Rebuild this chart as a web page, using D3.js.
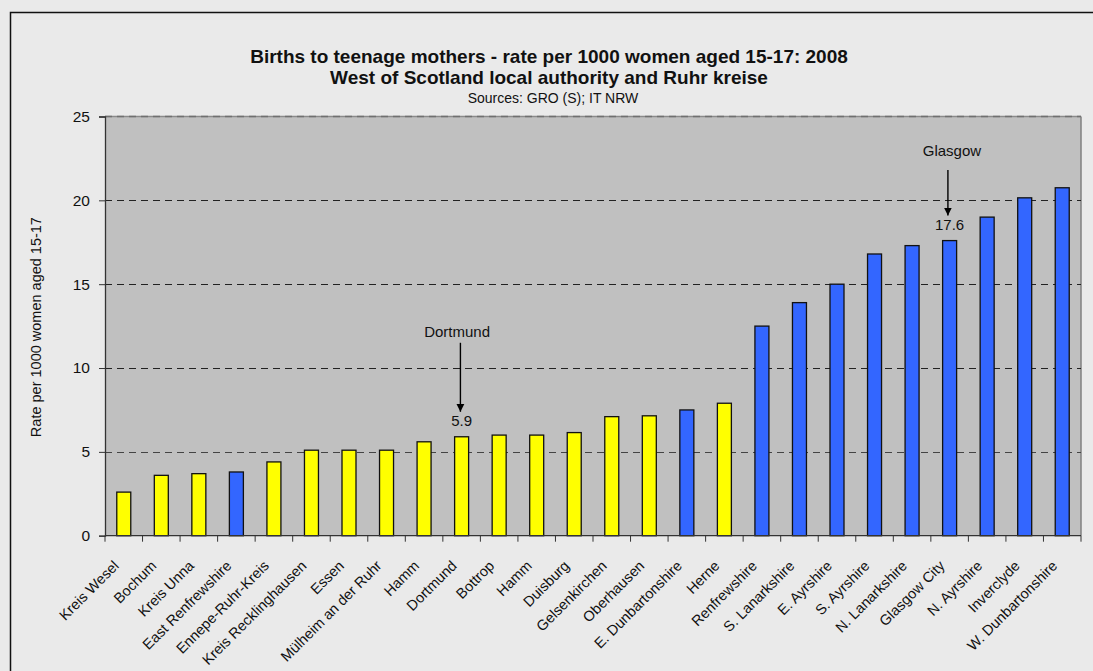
<!DOCTYPE html>
<html><head><meta charset="utf-8">
<script src="https://cdn.jsdelivr.net/npm/d3@7"></script>
<style>
html,body{margin:0;padding:0;background:#eaeaea;}
svg{display:block;font-family:"Liberation Sans",Arial,sans-serif;}
</style></head>
<body>
<svg id="chart" width="1093" height="671"></svg>
<script>
const categories = ["Kreis Wesel","Bochum","Kreis Unna","East Renfrewshire","Ennepe-Ruhr-Kreis","Kreis Recklinghausen","Essen","Mülheim an der Ruhr","Hamm","Dortmund","Bottrop","Hamm","Duisburg","Gelsenkirchen","Oberhausen","E. Dunbartonshire","Herne","Renfrewshire","S. Lanarkshire","E. Ayrshire","S. Ayrshire","N. Lanarkshire","Glasgow City","N. Ayrshire","Inverclyde","W. Dunbartonshire"];
const values = [2.6,3.6,3.7,3.8,4.4,5.1,5.1,5.1,5.6,5.9,6.0,6.0,6.15,7.1,7.15,7.5,7.9,12.5,13.9,15.0,16.8,17.3,17.6,19.0,20.15,20.75];
const regions = ["R","R","R","S","R","R","R","R","R","R","R","R","R","R","R","S","R","S","S","S","S","S","S","S","S","S"];
const yTicks = [0,5,10,15,20,25];
const annotationIndex = [9,22];
const annotationLabels = ["Dortmund","Glasgow"];
const annotationValues = ["5.9","17.6"];
const titleLines = ["Births to teenage mothers - rate per 1000 women aged 15-17: 2008","West of Scotland local authority and Ruhr kreise"];
const subtitle = "Sources: GRO (S); IT NRW";
const yTitle = "Rate per 1000 women aged 15-17";

// layout (not data)
const annLayout = [{labelGap:99.5,labelDx:-4.5,arrowTop:94,arrowDx:-1.2},{labelGap:85,labelDx:2.3,arrowTop:70.5,arrowDx:-1.7}];

const svg = d3.select("#chart");
const W=1093,H=671;
const plot = {left:105,right:1081,top:116.5,bottom:535.7};
const FONT = "Liberation Sans, Arial, sans-serif";

svg.append("rect").attr("x",0).attr("y",0).attr("width",W).attr("height",H).attr("fill","#eaeaea");
svg.append("path").attr("d",`M10.5,${H}V12.5H${W}`).attr("fill","none").attr("stroke","#111").attr("stroke-width",1.5);

const x = d3.scaleBand().domain(d3.range(categories.length)).range([plot.left,plot.right]).paddingInner(0).paddingOuter(0);
const y = d3.scaleLinear().domain([0,25]).range([plot.bottom,plot.top]);
const barW = 14;

svg.append("rect").attr("x",plot.left).attr("y",plot.top).attr("width",plot.right-plot.left).attr("height",plot.bottom-plot.top).attr("fill","#c0c0c0");
svg.append("line").attr("x1",plot.right).attr("x2",plot.right).attr("y1",plot.top).attr("y2",plot.bottom).attr("stroke","#808080").attr("stroke-width",1.5);
svg.append("line").attr("x1",plot.left).attr("x2",plot.right).attr("y1",y(25)).attr("y2",y(25)).attr("stroke","#8a8a8a").attr("stroke-width",1.5);
svg.append("line").attr("x1",plot.left).attr("x2",plot.right).attr("y1",y(25)).attr("y2",y(25)).attr("stroke","#707070").attr("stroke-width",1.5).attr("stroke-dasharray","7,5");

svg.append("g").selectAll("line").data(yTicks.filter(d=>d>0&&d<25)).join("line")
  .attr("x1",plot.left).attr("x2",plot.right).attr("y1",d=>Math.round(y(d))+0.5).attr("y2",d=>Math.round(y(d))+0.5)
  .attr("stroke",d=>d===5?"#444":"#222").attr("stroke-width",1).attr("stroke-dasharray","7,5");

svg.append("g").selectAll("rect").data(values).join("rect")
  .attr("x",(d,i)=>x(i)+x.bandwidth()/2-barW/2)
  .attr("y",d=>y(d))
  .attr("width",barW)
  .attr("height",d=>y(0)-y(d))
  .attr("fill",(d,i)=>regions[i]==="R"?"#ffff00":"#3366ff")
  .attr("stroke","#111").attr("stroke-width",1.3);

const yAxis = d3.axisLeft(y).tickValues(yTicks).tickSize(6).tickPadding(9);
const gy = svg.append("g").attr("transform",`translate(${plot.left},0)`).call(yAxis);
gy.select(".domain").attr("stroke","#333").attr("stroke-width",1.3);
gy.selectAll(".tick line").attr("stroke","#333");
gy.selectAll("text").attr("font-size",15.5).attr("fill","#111").attr("font-family",FONT);

const gx = svg.append("g").attr("transform",`translate(0,${plot.bottom})`);
gx.append("line").attr("x1",plot.left).attr("x2",plot.right).attr("stroke","#333").attr("stroke-width",1.3);
gx.selectAll("line.tk").data(d3.range(categories.length+1)).join("line").attr("class","tk")
  .attr("x1",i=>plot.left+i*x.step()).attr("x2",i=>plot.left+i*x.step()).attr("y1",0).attr("y2",6).attr("stroke","#333");
gx.selectAll("text").data(categories).join("text")
  .attr("transform",(d,i)=>`translate(${x(i)+x.bandwidth()/2-4},${31}) rotate(-45)`)
  .attr("text-anchor","end").attr("font-size",14.5).attr("fill","#111").text(d=>d);

const cx = 549;
svg.append("text").attr("x",cx).attr("y",63).attr("text-anchor","middle").attr("font-weight","bold").attr("font-size",19).attr("fill","#111").text(titleLines[0]);
svg.append("text").attr("x",cx).attr("y",84).attr("text-anchor","middle").attr("font-weight","bold").attr("font-size",19).attr("fill","#111").text(titleLines[1]);
svg.append("text").attr("x",cx+4).attr("y",103).attr("text-anchor","middle").attr("font-size",14).attr("fill","#111").text(subtitle);

svg.append("text").attr("transform",`translate(41,${(plot.top+plot.bottom)/2+1}) rotate(-90)`).attr("text-anchor","middle").attr("font-size",14.5).attr("fill","#111").text(yTitle);

svg.append("defs").append("marker").attr("id","ah").attr("viewBox","0 0 10 10").attr("refX",10).attr("refY",5)
  .attr("markerWidth",8).attr("markerHeight",9).attr("markerUnits","userSpaceOnUse").attr("orient","auto")
  .append("path").attr("d","M0,0L10,5L0,10Z").attr("fill","#000");
annotationIndex.forEach((idx,k)=>{
  const L = annLayout[k];
  const bx = x(idx)+x.bandwidth()/2;
  const top = y(values[idx]);
  const g = svg.append("g");
  g.append("text").attr("x",bx+L.labelDx).attr("y",top-L.labelGap).attr("text-anchor","middle").attr("font-size",15).attr("fill","#111").text(annotationLabels[k]);
  g.append("line").attr("x1",bx+L.arrowDx).attr("x2",bx+L.arrowDx).attr("y1",top-L.arrowTop).attr("y2",top-25).attr("stroke","#000").attr("stroke-width",1.4).attr("marker-end","url(#ah)");
  g.append("text").attr("x",bx).attr("y",top-10.6).attr("text-anchor","middle").attr("font-size",15).attr("fill","#111").text(annotationValues[k]);
});
</script>
</body></html>
